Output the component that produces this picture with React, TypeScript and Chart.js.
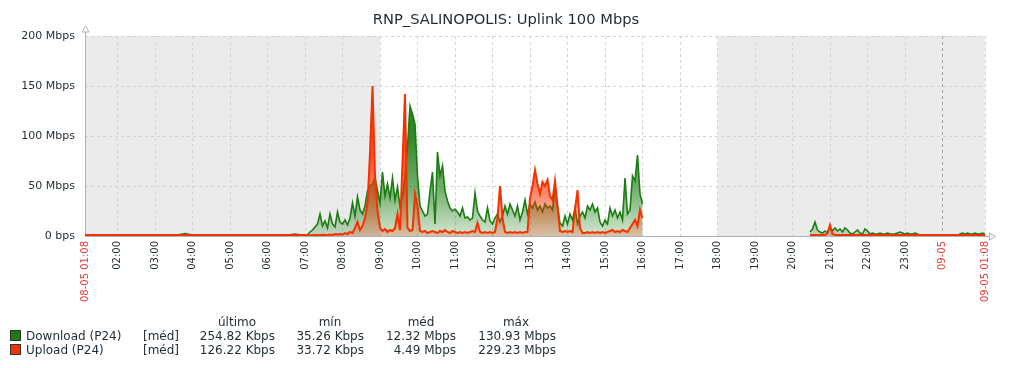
import React, { useEffect, useRef } from "react";
import { Chart, registerables } from "chart.js";

Chart.register(...registerables);

const FONT = '"DejaVu Sans", "Noto Sans", sans-serif';
const TEXT = "#1F2C33";

const TITLE = "RNP_SALINOPOLIS: Uplink 100 Mbps";

// x axis is minutes elapsed since 08-05 01:08
const xMin = 0;
const xMax = 1440;
const workStart = 472; // 09:00
const workEnd = 1012; // 18:00
const midnight = 1372; // 09-05 00:00

const xTickMinutes = [0, 52, 112, 172, 232, 292, 352, 412, 472, 532, 592, 652, 712, 772, 832, 892, 952, 1012, 1072, 1132, 1192, 1252, 1312, 1372, 1440];
const xTickLabels = ["08-05 01:08", "02:00", "03:00", "04:00", "05:00", "06:00", "07:00", "08:00", "09:00", "10:00", "11:00", "12:00", "13:00", "14:00", "15:00", "16:00", "17:00", "18:00", "19:00", "20:00", "21:00", "22:00", "23:00", "09-05", "09-05 01:08"];

const yTicks = [0, 50, 100, 150, 200];
const yTickLabels = ["0 bps", "50 Mbps", "100 Mbps", "150 Mbps", "200 Mbps"];

// Mbps values
const nightStart = 0;
const nightStep = 16;
const nightDownload = [0.5, 0.5, 0.5, 0.5, 0.5, 0.5, 0.5, 0.5, 0.5, 0.5, 2.5, 0.5, 0.5, 0.5, 0.5, 0.5, 0.5, 0.5, 0.5, 0.5, 0.5, 2, 0.5];
const nightUpload = [1, 1, 1, 1, 1, 1, 1, 1, 1, 1, 1, 1, 1, 1, 1, 1, 1, 1, 1, 1, 1, 1, 1];

const dayStart = 356;
const dayStep = 4;
const dayDownload = [
  1, 4, 6, 9, 12, 22, 10, 15, 8, 22,
  12, 9, 24, 14, 12, 16, 11, 18, 33, 20,
  39, 26, 22, 30, 45, 50, 52, 58, 45, 33,
  64, 40, 52, 38, 58, 36, 49, 30, 40, 60,
  90, 130, 122, 112, 60, 30, 25, 20, 22, 45,
  64, 12, 84, 60, 70, 45, 35, 28, 25, 27,
  24, 20, 28, 18, 19, 16, 18, 43, 25, 20,
  16, 14, 28, 15, 12, 18, 22, 14, 20, 30,
  22, 32, 26, 20, 30, 16, 24, 36, 22, 32,
  28, 34, 26, 30, 24, 32, 28, 30, 26, 49,
  30, 13, 10, 20, 12, 22, 16, 28, 12, 20,
  24, 18, 30, 26, 32, 24, 28, 14, 10, 16,
  12, 28, 20, 26, 18, 24, 16, 58, 22, 26,
  60, 55, 81, 42, 32,
];
const dayUpload = [
  0.5, 0.5, 1, 0.8, 1, 0.7, 1.2, 1, 0.8, 1.5, 1, 2, 1.5,
  2, 1.5, 3, 2, 4, 3, 8, 14, 6, 10, 18, 32, 83, 150, 60, 25, 8,
  5, 7, 4, 6, 5, 8, 22, 6, 74, 142, 8,
  5, 6, 42, 30, 5, 4, 5, 3, 4,
  5, 4, 3, 5, 4, 6, 4, 3, 5, 4, 3, 4, 3, 4, 3, 4, 5, 4, 13, 4, 3, 4, 3, 4, 3, 4, 18,
  50, 18, 4, 3, 4, 3, 4, 3, 4, 3, 4, 4,
  38, 50, 66, 52, 42, 54, 50, 56, 40, 36, 55, 30,
  5, 4, 5, 4, 5, 4, 26, 46, 8, 3,
  3, 4, 3, 4, 3, 4, 3, 4, 3, 4,
  5, 6, 4, 5, 4, 6, 5, 4, 8, 12, 16, 10, 26, 18,
];

const gapAt = 893;

const eveStart = 1160;
const eveStep = 4;
const eveDownload = [
  4, 7, 14, 6, 4, 3, 5, 3, 9, 5,
  8, 5, 7, 4, 8, 6, 3, 2, 4, 6,
  3, 2, 7, 5, 2, 3, 2, 2, 3, 2,
  2, 3, 2, 2, 2, 3, 4, 3, 2, 3,
  2, 2, 3, 2,
  0.5, 0.5, 0.5, 0.5, 0.5, 0.5, 0.5, 0.5, 0.5, 0.5, 0.5, 0.5, 0.5, 0.5, 0.5, 0.5,
  2, 3, 2, 3, 2, 2, 3, 2, 2, 3, 2,
];
const eveUpload = [
  1, 1, 1, 1, 1, 1, 1, 3, 11, 2,
  1, 1, 1, 1, 1, 1, 1, 1, 1, 1,
  1, 1, 1, 1, 1, 1, 1, 1, 1, 1,
  1, 1, 1, 1, 1, 1, 1, 1, 1, 1,
  1, 1, 1, 1, 1, 1, 1, 1, 1, 1,
  1, 1, 1, 1, 1, 1, 1, 1, 1, 1,
  1, 1, 1, 1, 1, 1, 1, 1, 1, 1, 1,
];

const legendHeaders = ["último", "mín", "méd", "máx"];
const seriesNames = ["Download (P24)", "Upload (P24)"];
const seriesFunc = "[méd]";
const seriesColors = ["#1A7C11", "#F63100"];
const seriesRgb = ["26,124,17", "246,49,0"];
const lastValues = ["254.82 Kbps", "126.22 Kbps"];
const minValues = ["35.26 Kbps", "33.72 Kbps"];
const avgValues = ["12.32 Mbps", "4.49 Mbps"];
const maxValues = ["130.93 Mbps", "229.23 Mbps"];

function points(start: number, step: number, values: (number | null)[]) {
  return values.map((v, i) => ({ x: start + i * step, y: v }));
}

function series(night: number[], day: number[], eve: number[]) {
  return [
    ...points(nightStart, nightStep, night),
    ...points(dayStart, dayStep, day),
    { x: gapAt, y: null },
    ...points(eveStart, eveStep, eve),
  ];
}

function fillGradient(rgb: string) {
  return (ctx: any) => {
    const chart = ctx.chart;
    const a = chart.chartArea;
    if (!a) return `rgba(${rgb},0.5)`;
    const g = chart.ctx.createLinearGradient(0, a.top, 0, a.bottom);
    g.addColorStop(0, `rgba(${rgb},1)`);
    g.addColorStop(0.5, `rgba(${rgb},0.9)`);
    g.addColorStop(0.77, `rgba(${rgb},0.6)`);
    g.addColorStop(0.95, `rgba(${rgb},0.28)`);
    g.addColorStop(1, `rgba(${rgb},0.2)`);
    return g;
  };
}

const AXIS = "#A9B4BA";

const zbxPlugin = {
  id: "zbxBackground",
  beforeDraw(chart: any) {
    const { ctx, chartArea: a, scales } = chart;
    const x = scales.x;
    ctx.save();
    ctx.fillStyle = "#FFFFFF";
    ctx.fillRect(0, 0, chart.width, chart.height);
    ctx.fillStyle = "#EBEBEB";
    const x1 = x.getPixelForValue(workStart);
    const x2 = x.getPixelForValue(workEnd);
    ctx.fillRect(a.left, a.top, x1 - a.left, a.bottom - a.top);
    ctx.fillRect(x2, a.top, a.right - x2, a.bottom - a.top);
    ctx.restore();
  },
  beforeDatasetsDraw(chart: any) {
    const { ctx, chartArea: a } = chart;
    ctx.save();
    ctx.strokeStyle = AXIS;
    ctx.lineWidth = 1;
    const lx = a.left + 0.5;
    const by = a.bottom + 0.5;
    ctx.beginPath();
    ctx.moveTo(lx, a.top - 5);
    ctx.lineTo(lx, by);
    ctx.lineTo(a.right + 5, by);
    ctx.stroke();
    // up arrow
    ctx.beginPath();
    ctx.moveTo(lx, a.top - 10);
    ctx.lineTo(lx - 3.5, a.top - 4);
    ctx.lineTo(lx + 3.5, a.top - 4);
    ctx.closePath();
    ctx.fillStyle = "#FFFFFF";
    ctx.fill();
    ctx.stroke();
    // right arrow
    ctx.beginPath();
    ctx.moveTo(a.right + 10.5, by);
    ctx.lineTo(a.right + 4.5, by - 3.5);
    ctx.lineTo(a.right + 4.5, by + 3.5);
    ctx.closePath();
    ctx.fill();
    ctx.stroke();
    ctx.restore();
  },
};

export default function App() {
  const canvasRef = useRef<HTMLCanvasElement | null>(null);

  useEffect(() => {
    const canvas = canvasRef.current;
    if (!canvas) return;
    const chart = new Chart(canvas, {
      type: "line",
      data: {
        datasets: [
          {
            label: seriesNames[0],
            data: series(nightDownload, dayDownload, eveDownload) as any,
            borderColor: seriesColors[0],
            backgroundColor: fillGradient(seriesRgb[0]),
            fill: "origin",
            borderWidth: 1.6,
            pointRadius: 0,
            tension: 0,
            spanGaps: false,
            order: 2,
          },
          {
            label: seriesNames[1],
            data: series(nightUpload, dayUpload, eveUpload) as any,
            borderColor: seriesColors[1],
            backgroundColor: fillGradient(seriesRgb[1]),
            fill: "origin",
            borderWidth: 2,
            pointRadius: 0,
            tension: 0,
            spanGaps: false,
            order: 1,
          },
        ],
      },
      options: {
        responsive: false,
        animation: false,
        devicePixelRatio: 1,
        events: [],
        layout: { padding: { top: 36, right: 31, bottom: 0, left: 0 } },
        plugins: {
          legend: { display: false },
          title: { display: false },
          tooltip: { enabled: false },
        },
        scales: {
          x: {
            type: "linear",
            min: xMin,
            max: xMax,
            afterBuildTicks: (s: any) => {
              s.ticks = xTickMinutes.map((v) => ({ value: v }));
            },
            afterFit: (s: any) => {
              s.height = 132;
              s.paddingLeft = 0;
              s.paddingRight = 0;
            },
            ticks: {
              autoSkip: false,
              minRotation: 90,
              maxRotation: 90,
              padding: 5,
              font: { family: FONT, size: 10 },
              color: (c: any) => (xTickLabels[c.index] && xTickLabels[c.index].includes("-") ? "#E8403A" : TEXT),
              callback: (_v: any, i: number) => xTickLabels[i],
            },
            grid: {
              drawTicks: false,
              lineWidth: 1,
              color: (c: any) => (c.tick && c.tick.value === midnight ? "#9FAAB0" : "#CDD5D9"),
            },
            border: { display: false, dash: [3, 3] },
          },
          y: {
            min: 0,
            max: 200,
            afterBuildTicks: (s: any) => {
              s.ticks = yTicks.map((v) => ({ value: v }));
            },
            afterFit: (s: any) => {
              s.width = 85;
              s.paddingTop = 0;
              s.paddingBottom = 0;
            },
            ticks: {
              padding: 10,
              font: { family: FONT, size: 11 },
              color: TEXT,
              callback: (v: any) => yTickLabels[yTicks.indexOf(Number(v))],
            },
            grid: { drawTicks: false, lineWidth: 1, color: "#CDD5D9" },
            border: { display: false, dash: [3, 3] },
          },
        },
      } as any,
      plugins: [zbxPlugin],
    });
    return () => chart.destroy();
  }, []);

  const colHeadCenters = [237, 330, 421, 516];
  const colRightEdges = [275, 364, 456, 556];
  const columns = [lastValues, minValues, avgValues, maxValues];
  const rowCenters = [336, 350];

  return (
    <div style={{ position: "absolute", left: 0, top: 0, width: 1016, height: 368, background: "#FFFFFF", fontFamily: FONT, color: TEXT, overflow: "hidden" }}>
      <canvas ref={canvasRef} width={1016} height={368} style={{ position: "absolute", left: 0, top: 0 }} />
      <div style={{ position: "absolute", left: -2, top: 10, width: 1016, textAlign: "center", fontSize: 14.7, lineHeight: "18px" }}>{TITLE}</div>
      {legendHeaders.map((h, i) => (
        <div key={h} style={{ position: "absolute", left: colHeadCenters[i] - 50, top: 322 - 7, width: 100, textAlign: "center", fontSize: 12, lineHeight: "14px" }}>{h}</div>
      ))}
      {seriesNames.map((name, r) => (
        <React.Fragment key={name}>
          <div style={{ position: "absolute", left: 10, top: rowCenters[r] - 6, width: 9, height: 9, background: seriesColors[r], border: "1px solid #333" }} />
          <div style={{ position: "absolute", left: 26, top: rowCenters[r] - 7, fontSize: 12, lineHeight: "14px", whiteSpace: "nowrap" }}>{name}</div>
          <div style={{ position: "absolute", left: 143, top: rowCenters[r] - 7, fontSize: 12, lineHeight: "14px", whiteSpace: "nowrap" }}>{seriesFunc}</div>
          {columns.map((col, c) => (
            <div key={c} style={{ position: "absolute", left: colRightEdges[c] - 100, top: rowCenters[r] - 7, width: 100, textAlign: "right", fontSize: 12, lineHeight: "14px", whiteSpace: "nowrap" }}>{col[r]}</div>
          ))}
        </React.Fragment>
      ))}
    </div>
  );
}
